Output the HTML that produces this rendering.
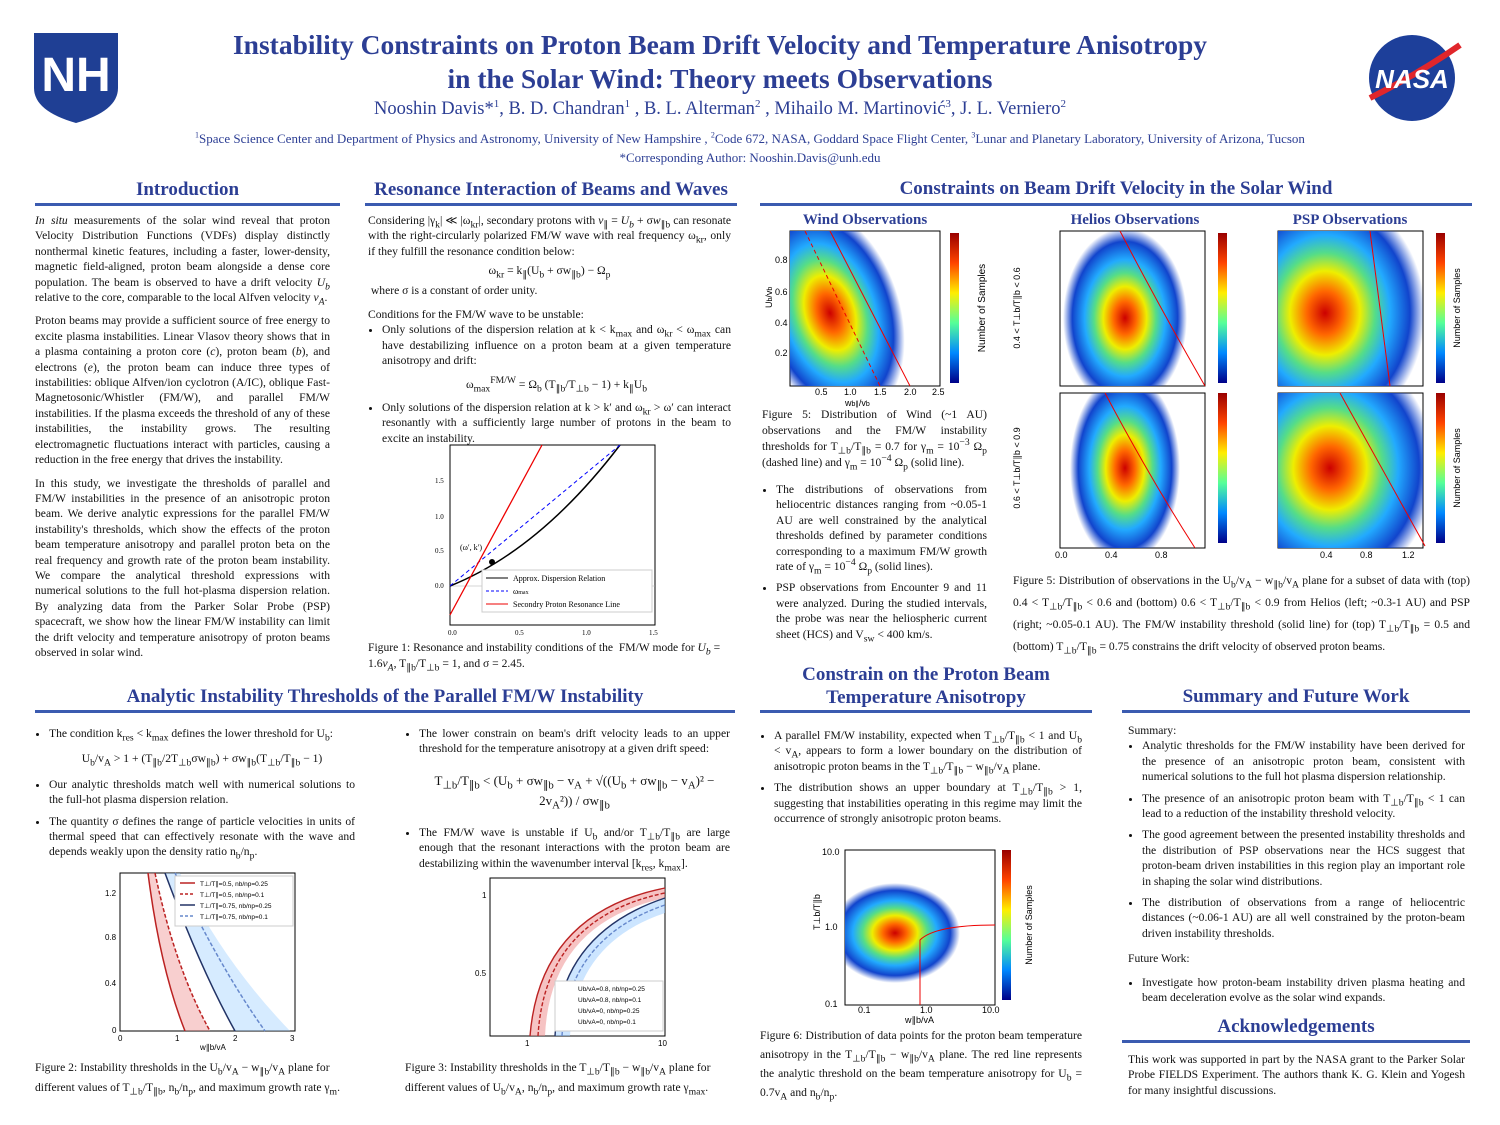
<!DOCTYPE html>
<html><head><meta charset="utf-8"><style>
body{margin:0;width:1500px;height:1125px;background:#fff;position:relative;overflow:hidden;font-family:"Liberation Serif",serif;color:#111}
sub,sup{line-height:0}
.a{position:absolute}
.t{color:#2c3e94;font-weight:bold;text-align:center}
.h{position:absolute;color:#2c3e94;font-weight:bold;font-size:19px;text-align:center}
.ln{position:absolute;height:3px;background:#3b5bb0}
.p{position:absolute;font-size:11.6px;line-height:15.4px;text-align:justify}
.p p{margin:0 0 8px 0}
ul{margin:0;padding-left:14px}
li{margin-bottom:6px}
.cap{position:absolute;font-size:11.6px;line-height:16px}
.st{color:#2c3e94;font-weight:bold;font-size:15px;text-align:center;position:absolute}
</style></head><body>
<svg class="a" style="left:34px;top:33px" width="84" height="90" viewBox="0 0 84 90"><path d="M0 0H84V55Q84 78 42 90Q0 78 0 55Z" fill="#1f3f94"/><text x="42" y="58" font-family="Liberation Sans" font-weight="bold" font-size="48" fill="#fff" text-anchor="middle">NH</text></svg>
<svg class="a" style="left:1360px;top:33px" width="105" height="90"><circle cx="52" cy="45" r="43" fill="#1d3f9a"/><path d="M10 65Q60 40 100 12" stroke="#e0262b" stroke-width="6" fill="none"/><text x="52" y="55" font-family="Liberation Sans" font-weight="bold" font-style="italic" font-size="26" fill="#fff" text-anchor="middle">NASA</text></svg>
<div class="a t" style="left:150px;width:1140px;top:28px;font-size:27.5px;line-height:34px">Instability Constraints on Proton Beam Drift Velocity and Temperature Anisotropy<br>in the Solar Wind: Theory meets Observations</div>
<div class="a" style="left:150px;width:1140px;top:99px;font-size:18.5px;text-align:center;color:#2c3e94">Nooshin Davis*<sup style="font-size:11px">1</sup>, B. D. Chandran<sup style="font-size:11px">1</sup> , B. L. Alterman<sup style="font-size:11px">2</sup> , Mihailo M. Martinović<sup style="font-size:11px">3</sup>, J. L. Verniero<sup style="font-size:11px">2</sup></div>
<div class="a" style="left:60px;width:1380px;top:131px;font-size:13px;text-align:center;color:#2c3e94"><sup style="font-size:8px">1</sup>Space Science Center and Department of Physics and Astronomy, University of New Hampshire , <sup style="font-size:8px">2</sup>Code 672, NASA, Goddard Space Flight Center, <sup style="font-size:8px">3</sup>Lunar and Planetary Laboratory, University of Arizona, Tucson<br><span style="line-height:22px">*Corresponding Author: Nooshin.Davis@unh.edu</span></div>

<div class="h" style="left:35px;width:305px;top:179px">Introduction</div><div class="ln" style="left:35px;width:305px;top:203px"></div>
<div class="h" style="left:365px;width:372px;top:179px">Resonance Interaction of Beams and Waves</div><div class="ln" style="left:365px;width:372px;top:203px"></div>
<div class="h" style="left:760px;width:712px;top:178px">Constraints on Beam Drift Velocity in the Solar Wind</div><div class="ln" style="left:760px;width:712px;top:203px"></div>

<div class="p" style="left:35px;width:295px;top:213px"><p><i>In situ</i> measurements of the solar wind reveal that proton Velocity Distribution Functions (VDFs) display distinctly nonthermal kinetic features, including a faster, lower-density, magnetic field-aligned, proton beam alongside a dense core population. The beam is observed to have a drift velocity <i>U<sub>b</sub></i> relative to the core, comparable to the local Alfven velocity <i>v<sub>A</sub></i>.</p><p>Proton beams may provide a sufficient source of free energy to excite plasma instabilities. Linear Vlasov theory shows that in a plasma containing a proton core (<i>c</i>), proton beam (<i>b</i>), and electrons (<i>e</i>), the proton beam can induce three types of instabilities: oblique Alfven/ion cyclotron (A/IC), oblique Fast-Magnetosonic/Whistler (FM/W), and parallel FM/W instabilities. If the plasma exceeds the threshold of any of these instabilities, the instability grows. The resulting electromagnetic fluctuations interact with particles, causing a reduction in the free energy that drives the instability.</p><p>In this study, we investigate the thresholds of parallel and FM/W instabilities in the presence of an anisotropic proton beam. We derive analytic expressions for the parallel FM/W instability's thresholds, which show the effects of the proton beam temperature anisotropy and parallel proton beta on the real frequency and growth rate of the proton beam instability. We compare the analytical threshold expressions with numerical solutions to the full hot-plasma dispersion relation. By analyzing data from the Parker Solar Probe (PSP) spacecraft, we show how the linear FM/W instability can limit the drift velocity and temperature anisotropy of proton beams observed in solar wind.</p></div>

<div class="p" style="left:368px;width:363px;top:213px">Considering |γ<sub>k</sub>| ≪ |ω<sub>kr</sub>|, secondary protons with <i>v</i><sub>∥</sub> = <i>U<sub>b</sub></i> + σ<i>w</i><sub>∥b</sub> can resonate with the right-circularly polarized FM/W wave with real frequency ω<sub>kr</sub>, only if they fulfill the resonance condition below:<div style="text-align:center;margin:4px 0">ω<sub>kr</sub> = k<sub>∥</sub>(U<sub>b</sub> + σw<sub>∥b</sub>) − Ω<sub>p</sub></div>&nbsp;where σ is a constant of order unity.<div style="height:9px"></div>Conditions for the FM/W wave to be unstable:<ul><li>Only solutions of the dispersion relation at k &lt; k<sub>max</sub> and ω<sub>kr</sub> &lt; ω<sub>max</sub> can have destabilizing influence on a proton beam at a given temperature anisotropy and drift:<div style="text-align:center;margin:8px 0">ω<sub>max</sub><sup>FM/W</sup> = Ω<sub>b</sub> (T<sub>∥b</sub>/T<sub>⊥b</sub> − 1) + k<sub>∥</sub>U<sub>b</sub></div></li><li>Only solutions of the dispersion relation at k &gt; k′ and ω<sub>kr</sub> &gt; ω′ can interact resonantly with a sufficiently large number of protons in the beam to excite an instability.</li></ul></div>
<svg class="a" style="left:420px;top:440px" width="245" height="200"><rect x="30" y="5" width="205" height="180" fill="none" stroke="#000"/><line x1="30" y1="146" x2="235" y2="146" stroke="#aaa" stroke-width=".5"/><path d="M30 146Q120 110 200 5" stroke="#000" stroke-width="1.5" fill="none"/><path d="M30 146L200 5" stroke="#00f" stroke-dasharray="4,3" fill="none"/><path d="M30 175L122 5" stroke="#e00" stroke-width="1.3"/><circle cx="72" cy="122" r="3"/><text x="40" y="110" font-size="8">(ω′, k′)</text><rect x="62" y="130" width="170" height="42" fill="#fff" stroke="#ccc"/><line x1="66" y1="138" x2="88" y2="138" stroke="#000"/><text x="93" y="141" font-size="8">Approx. Dispersion Relation</text><line x1="66" y1="151" x2="88" y2="151" stroke="#00f" stroke-dasharray="3,2"/><text x="93" y="154" font-size="8">ω<tspan font-size="6">max</tspan></text><line x1="66" y1="164" x2="88" y2="164" stroke="#e00"/><text x="93" y="167" font-size="8">Secondry Proton Resonance Line</text><g font-size="7"><text x="15" y="43">1.5</text><text x="15" y="79">1.0</text><text x="15" y="113">0.5</text><text x="15" y="148">0.0</text><text x="28" y="195">0.0</text><text x="95" y="195">0.5</text><text x="162" y="195">1.0</text><text x="229" y="195">1.5</text></g></svg>
<div class="cap" style="left:368px;top:640px;width:365px">Figure 1: Resonance and instability conditions of the &nbsp;FM/W mode for <i>U<sub>b</sub></i> = 1.6<i>v<sub>A</sub></i>, T<sub>∥b</sub>/T<sub>⊥b</sub> = 1, and σ = 2.45.</div>

<div class="st" style="left:790px;width:150px;top:212px">Wind Observations</div>
<div class="st" style="left:1060px;width:150px;top:212px">Helios Observations</div>
<div class="st" style="left:1260px;width:180px;top:212px">PSP Observations</div>
<svg class="a" style="left:760px;top:228px" width="712" height="340">
<defs>
<radialGradient id="g1" cx="50%" cy="50%" r="50%"><stop offset="0" stop-color="#c00"/><stop offset=".18" stop-color="#f60"/><stop offset=".35" stop-color="#ee0"/><stop offset=".5" stop-color="#5d8"/><stop offset=".65" stop-color="#2af"/><stop offset=".85" stop-color="#14c"/><stop offset="1" stop-color="#14c" stop-opacity="0"/></radialGradient>
<linearGradient id="cb" x1="0" y1="0" x2="0" y2="1"><stop offset="0" stop-color="#900"/><stop offset=".2" stop-color="#f40"/><stop offset=".4" stop-color="#fe0"/><stop offset=".6" stop-color="#5f9"/><stop offset=".8" stop-color="#08f"/><stop offset="1" stop-color="#008"/></linearGradient>
<clipPath id="c1"><rect x="30" y="3" width="150" height="155"/></clipPath>
<clipPath id="c2"><rect x="300" y="3" width="145" height="155"/></clipPath>
<clipPath id="c3"><rect x="300" y="165" width="145" height="155"/></clipPath>
<clipPath id="c4"><rect x="518" y="3" width="145" height="155"/></clipPath>
<clipPath id="c5"><rect x="518" y="165" width="145" height="155"/></clipPath>
</defs>
<rect x="30" y="3" width="150" height="155" fill="#fff" stroke="#000"/>
<g clip-path="url(#c1)"><ellipse cx="70" cy="85" rx="70" ry="110" fill="url(#g1)" transform="rotate(-18 70 85)"/></g>
<path d="M70 3L150 158" stroke="#e00"/><path d="M45 3L120 158" stroke="#e00" stroke-dasharray="4,3"/>
<rect x="190" y="5" width="9" height="150" fill="url(#cb)"/>
<text x="225" y="80" font-size="10" font-family="Liberation Sans" transform="rotate(-90 225 80)" text-anchor="middle">Number of Samples</text>
<g font-size="9" font-family="Liberation Sans"><text x="15" y="35">0.8</text><text x="15" y="67">0.6</text><text x="15" y="98">0.4</text><text x="15" y="128">0.2</text><text x="55" y="167">0.5</text><text x="84" y="167">1.0</text><text x="114" y="167">1.5</text><text x="144" y="167">2.0</text><text x="172" y="167">2.5</text><text x="85" y="178">w<tspan font-size="7">b∥</tspan>/v<tspan font-size="7">b</tspan></text><text x="12" y="80" transform="rotate(-90 12 80)">U<tspan font-size="7">b</tspan>/v<tspan font-size="7">b</tspan></text></g>
<rect x="300" y="3" width="145" height="155" fill="#fff" stroke="#000"/>
<g clip-path="url(#c2)"><ellipse cx="365" cy="90" rx="62" ry="90" fill="url(#g1)"/></g>
<path d="M360 3Q400 80 445 158" stroke="#e00" fill="none"/>
<rect x="458" y="5" width="9" height="150" fill="url(#cb)"/>
<rect x="300" y="165" width="145" height="155" fill="#fff" stroke="#000"/>
<g clip-path="url(#c3)"><ellipse cx="365" cy="240" rx="55" ry="95" fill="url(#g1)"/></g>
<path d="M345 165Q390 250 435 320" stroke="#e00" fill="none"/>
<rect x="458" y="165" width="9" height="150" fill="url(#cb)"/>
<rect x="518" y="3" width="145" height="155" fill="#fff" stroke="#000"/>
<g clip-path="url(#c4)"><ellipse cx="565" cy="85" rx="100" ry="120" fill="url(#g1)"/></g>
<path d="M610 3L630 158" stroke="#e00"/>
<rect x="676" y="5" width="9" height="150" fill="url(#cb)"/>
<rect x="518" y="165" width="145" height="155" fill="#fff" stroke="#000"/>
<g clip-path="url(#c5)"><ellipse cx="570" cy="240" rx="105" ry="120" fill="url(#g1)"/></g>
<path d="M580 165L665 318" stroke="#e00"/>
<rect x="676" y="165" width="9" height="150" fill="url(#cb)"/>
<g font-size="9" font-family="Liberation Sans"><text x="700" y="80" transform="rotate(-90 700 80)" text-anchor="middle">Number of Samples</text><text x="700" y="240" transform="rotate(-90 700 240)" text-anchor="middle">Number of Samples</text><text x="260" y="80" transform="rotate(-90 260 80)" text-anchor="middle">0.4 &lt; T⊥b/T∥b &lt; 0.6</text><text x="260" y="240" transform="rotate(-90 260 240)" text-anchor="middle">0.6 &lt; T⊥b/T∥b &lt; 0.9</text><text x="295" y="330">0.0</text><text x="345" y="330">0.4</text><text x="395" y="330">0.8</text><text x="560" y="330">0.4</text><text x="600" y="330">0.8</text><text x="642" y="330">1.2</text></g>
</svg>
<div class="cap" style="left:762px;top:407px;width:225px;text-align:justify">Figure 5: Distribution of Wind (~1 AU) observations and the FM/W instability thresholds for T<sub>⊥b</sub>/T<sub>∥b</sub> = 0.7 for γ<sub>m</sub> = 10<sup>−3</sup> Ω<sub>p</sub> (dashed line) and γ<sub>m</sub> = 10<sup>−4</sup> Ω<sub>p</sub> (solid line).</div>
<div class="p" style="left:762px;top:482px;width:225px"><ul><li>The distributions of observations from heliocentric distances ranging from ~0.05-1 AU are well constrained by the analytical thresholds defined by parameter conditions corresponding to a maximum FM/W growth rate of γ<sub>m</sub> = 10<sup>−4</sup> Ω<sub>p</sub> (solid lines).</li><li>PSP observations from Encounter 9 and 11 were analyzed. During the studied intervals, the probe was near the heliospheric current sheet (HCS) and V<sub>sw</sub> &lt; 400 km/s.</li></ul></div>
<div class="cap" style="left:1013px;top:570px;width:457px;line-height:22px;text-align:justify">Figure 5: Distribution of observations in the U<sub>b</sub>/v<sub>A</sub> − w<sub>∥b</sub>/v<sub>A</sub> plane for a subset of data with (top) 0.4 &lt; T<sub>⊥b</sub>/T<sub>∥b</sub> &lt; 0.6 and (bottom) 0.6 &lt; T<sub>⊥b</sub>/T<sub>∥b</sub> &lt; 0.9 from Helios (left; ~0.3-1 AU) and PSP (right; ~0.05-0.1 AU). The FM/W instability threshold (solid line) for (top) T<sub>⊥b</sub>/T<sub>∥b</sub> = 0.5 and (bottom) T<sub>⊥b</sub>/T<sub>∥b</sub> = 0.75 constrains the drift velocity of observed proton beams.</div>

<div class="h" style="left:35px;width:700px;top:686px">Analytic Instability Thresholds of the Parallel FM/W Instability</div><div class="ln" style="left:35px;width:700px;top:710px"></div>
<div class="h" style="left:760px;width:332px;top:663px;line-height:23px">Constrain on the Proton Beam<br>Temperature Anisotropy</div><div class="ln" style="left:760px;width:332px;top:710px"></div>
<div class="h" style="left:1122px;width:348px;top:686px">Summary and Future Work</div><div class="ln" style="left:1122px;width:348px;top:710px"></div>

<div class="p" style="left:35px;top:726px;width:320px"><ul><li>The condition k<sub>res</sub> &lt; k<sub>max</sub> defines the lower threshold for U<sub>b</sub>:<div style="text-align:center;margin:10px 0">U<sub>b</sub>/v<sub>A</sub> &gt; 1 + (T<sub>∥b</sub>/2T<sub>⊥b</sub>σw<sub>∥b</sub>) + σw<sub>∥b</sub>(T<sub>⊥b</sub>/T<sub>∥b</sub> − 1)</div></li><li>Our analytic thresholds match well with numerical solutions to the full-hot plasma dispersion relation.</li><li>The quantity σ defines the range of particle velocities in units of thermal speed that can effectively resonate with the wave and depends weakly upon the density ratio n<sub>b</sub>/n<sub>p</sub>.</li></ul></div>
<svg class="a" style="left:90px;top:868px" width="220" height="185"><rect x="30" y="5" width="175" height="158" fill="none" stroke="#000"/>
<path d="M58 5Q70 100 95 163L120 163Q85 100 65 5Z" fill="#e88" opacity=".4"/><path d="M75 5Q110 100 145 163L200 163Q130 90 90 5Z" fill="#9cf" opacity=".4"/>
<g fill="none" stroke-width="1.5"><path d="M58 5Q70 100 95 163" stroke="#b22"/><path d="M65 5Q85 100 120 163" stroke="#b22" stroke-dasharray="4,2"/><path d="M75 5Q110 100 145 163" stroke="#236"/><path d="M85 5Q130 100 175 163" stroke="#68c" stroke-dasharray="4,2"/></g>
<rect x="85" y="8" width="118" height="50" fill="#fff" stroke="#ccc"/><g font-size="6.5" font-family="Liberation Sans"><text x="110" y="18">T⊥/T∥=0.5, nb/np=0.25</text><text x="110" y="29">T⊥/T∥=0.5, nb/np=0.1</text><text x="110" y="40">T⊥/T∥=0.75, nb/np=0.25</text><text x="110" y="51">T⊥/T∥=0.75, nb/np=0.1</text></g>
<g stroke-width="1.5"><line x1="90" y1="15" x2="105" y2="15" stroke="#b22"/><line x1="90" y1="26" x2="105" y2="26" stroke="#b22" stroke-dasharray="3,2"/><line x1="90" y1="37" x2="105" y2="37" stroke="#236"/><line x1="90" y1="48" x2="105" y2="48" stroke="#68c" stroke-dasharray="3,2"/></g>
<g font-size="8" font-family="Liberation Sans"><text x="15" y="28">1.2</text><text x="15" y="72">0.8</text><text x="15" y="118">0.4</text><text x="22" y="165">0</text><text x="28" y="173">0</text><text x="85" y="173">1</text><text x="143" y="173">2</text><text x="200" y="173">3</text><text x="110" y="182">w∥b/vA</text></g></svg>
<div class="cap" style="left:35px;top:1058px;width:320px;line-height:20px">Figure 2: Instability thresholds in the U<sub>b</sub>/v<sub>A</sub> − w<sub>∥b</sub>/v<sub>A</sub> plane for different values of T<sub>⊥b</sub>/T<sub>∥b</sub>, n<sub>b</sub>/n<sub>p</sub>, and maximum growth rate γ<sub>m</sub>.</div>

<div class="p" style="left:405px;top:726px;width:325px"><ul><li>The lower constrain on beam's drift velocity leads to an upper threshold for the temperature anisotropy at a given drift speed:<div style="text-align:center;margin:14px 0;font-size:13px;line-height:20px">T<sub>⊥b</sub>/T<sub>∥b</sub> &lt; (U<sub>b</sub> + σw<sub>∥b</sub> − v<sub>A</sub> + √((U<sub>b</sub> + σw<sub>∥b</sub> − v<sub>A</sub>)² − 2v<sub>A</sub>²)) / σw<sub>∥b</sub></div></li><li>The FM/W wave is unstable if U<sub>b</sub> and/or T<sub>⊥b</sub>/T<sub>∥b</sub> are large enough that the resonant interactions with the proton beam are destabilizing within the wavenumber interval [k<sub>res</sub>, k<sub>max</sub>].</li></ul></div>
<svg class="a" style="left:460px;top:873px" width="215" height="175"><rect x="30" y="5" width="175" height="158" fill="none" stroke="#000"/>
<path d="M70 163Q80 40 205 15L205 25Q90 50 85 163Z" fill="#e88" opacity=".5"/><path d="M95 163Q100 60 205 25L205 40Q115 70 110 163Z" fill="#9cf" opacity=".5"/>
<g fill="none" stroke-width="1.4"><path d="M70 163Q80 40 205 15" stroke="#b22"/><path d="M78 163Q85 45 205 20" stroke="#b22" stroke-dasharray="4,2"/><path d="M95 163Q100 60 205 25" stroke="#236"/><path d="M102 163Q108 65 205 32" stroke="#68c" stroke-dasharray="4,2"/></g>
<rect x="95" y="108" width="108" height="50" fill="#fff" stroke="#ccc"/><g font-size="6.5" font-family="Liberation Sans"><text x="118" y="118">Ub/vA=0.8, nb/np=0.25</text><text x="118" y="129">Ub/vA=0.8, nb/np=0.1</text><text x="118" y="140">Ub/vA=0, nb/np=0.25</text><text x="118" y="151">Ub/vA=0, nb/np=0.1</text></g>
<g font-size="8" font-family="Liberation Sans"><text x="22" y="25">1</text><text x="15" y="103">0.5</text><text x="65" y="173">1</text><text x="198" y="173">10</text></g></svg>
<div class="cap" style="left:405px;top:1058px;width:330px;line-height:20px">Figure 3: Instability thresholds in the T<sub>⊥b</sub>/T<sub>∥b</sub> − w<sub>∥b</sub>/v<sub>A</sub> plane for different values of U<sub>b</sub>/v<sub>A</sub>, n<sub>b</sub>/n<sub>p</sub>, and maximum growth rate γ<sub>max</sub>.</div>

<div class="p" style="left:760px;top:728px;width:322px"><ul><li>A parallel FM/W instability, expected when T<sub>⊥b</sub>/T<sub>∥b</sub> &lt; 1 and U<sub>b</sub> &lt; v<sub>A</sub>, appears to form a lower boundary on the distribution of anisotropic proton beams in the T<sub>⊥b</sub>/T<sub>∥b</sub> − w<sub>∥b</sub>/v<sub>A</sub> plane.</li><li>The distribution shows an upper boundary at T<sub>⊥b</sub>/T<sub>∥b</sub> &gt; 1, suggesting that instabilities operating in this regime may limit the occurrence of strongly anisotropic proton beams.</li></ul></div>
<svg class="a" style="left:800px;top:845px" width="260" height="180"><rect x="45" y="5" width="150" height="155" fill="#fff" stroke="#000"/>
<clipPath id="c6"><rect x="45" y="5" width="150" height="155"/></clipPath>
<g clip-path="url(#c6)"><ellipse cx="95" cy="88" rx="65" ry="50" fill="url(#g1)"/></g>
<path d="M120 160L120 95Q135 80 195 80" stroke="#e00" fill="none"/>
<rect x="202" y="5" width="9" height="150" fill="url(#cb)"/>
<g font-size="9" font-family="Liberation Sans"><text x="232" y="80" transform="rotate(-90 232 80)" text-anchor="middle">Number of Samples</text><text x="22" y="10">10.0</text><text x="25" y="85">1.0</text><text x="25" y="162">0.1</text><text x="58" y="168">0.1</text><text x="120" y="168">1.0</text><text x="182" y="168">10.0</text><text x="105" y="178">w∥b/vA</text><text x="20" y="85" transform="rotate(-90 20 85)">T⊥b/T∥b</text></g></svg>
<div class="cap" style="left:760px;top:1026px;width:322px;line-height:19px;text-align:justify">Figure 6: Distribution of data points for the proton beam temperature anisotropy in the T<sub>⊥b</sub>/T<sub>∥b</sub> − w<sub>∥b</sub>/v<sub>A</sub> plane. The red line represents the analytic threshold on the beam temperature anisotropy for U<sub>b</sub> = 0.7v<sub>A</sub> and n<sub>b</sub>/n<sub>p</sub>.</div>

<div class="p" style="left:1128px;top:723px;width:337px">Summary:<ul><li>Analytic thresholds for the FM/W instability have been derived for the presence of an anisotropic proton beam, consistent with numerical solutions to the full hot plasma dispersion relationship.</li><li>The presence of an anisotropic proton beam with T<sub>⊥b</sub>/T<sub>∥b</sub> &lt; 1 can lead to a reduction of the instability threshold velocity.</li><li>The good agreement between the presented instability thresholds and the distribution of PSP observations near the HCS suggest that proton-beam driven instabilities in this region play an important role in shaping the solar wind distributions.</li><li>The distribution of observations from a range of heliocentric distances (~0.06-1 AU) are all well constrained by the proton-beam driven instability thresholds.</li></ul><div style="margin-top:10px">Future Work:</div><ul style="margin-top:8px"><li>Investigate how proton-beam instability driven plasma heating and beam deceleration evolve as the solar wind expands.</li></ul></div>
<div class="h" style="left:1122px;width:348px;top:1016px">Acknowledgements</div><div class="ln" style="left:1122px;width:348px;top:1040px"></div>
<div class="p" style="left:1128px;top:1052px;width:337px">This work was supported in part by the NASA grant to the Parker Solar Probe FIELDS Experiment. The authors thank K. G. Klein and Yogesh for many insightful discussions.</div>
</body></html>
